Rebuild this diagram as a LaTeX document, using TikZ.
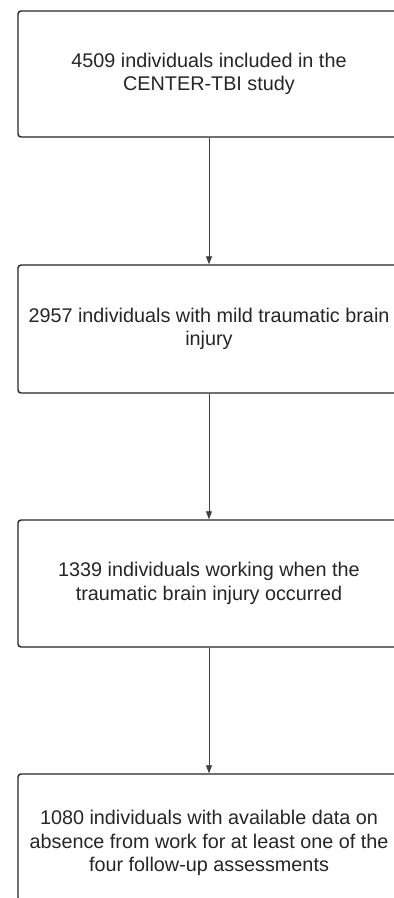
\documentclass[tikz,border=0pt]{standalone}
\usepackage{fontspec}
\setmainfont{Liberation Sans}
\usetikzlibrary{arrows.meta}
\begin{document}
\begin{tikzpicture}[x=1pt,y=-1pt,
  boxfont/.style={font=\fontsize{19.8pt}{23.5pt}\selectfont, text=black!85},
  flowbox/.style={draw=black!85, line width=1.4pt, rounded corners=3pt,
    minimum width=382pt, inner sep=0pt, align=center, boxfont},
  flowarrow/.style={draw=black!75, line width=0.8pt,
    -{Triangle[length=8pt,width=6pt]}}]
\useasboundingbox[fill=white] (0,0) rectangle (394,898);
\node[flowbox, minimum height=126pt] (b1) at (209,74) {4509 individuals included in the\\CENTER-TBI study};
\node[flowbox, minimum height=128pt] (b2) at (209,329) {2957 individuals with mild traumatic brain\\injury};
\node[flowbox, minimum height=127pt] (b3) at (209,583.5) {1339 individuals working when the\\traumatic brain injury occurred};
\node[flowbox, minimum height=127pt] (b4) at (209,837.5) {};
\node[boxfont, align=center] (t4) at (209,843) {1080 individuals with available data on\\absence from work for at least one of the\\four follow-up assessments};
\draw[flowarrow] (b1.south) -- (b2.north);
\draw[flowarrow] (b2.south) -- (b3.north);
\draw[flowarrow] (b3.south) -- (b4.north);
\end{tikzpicture}
\end{document}
